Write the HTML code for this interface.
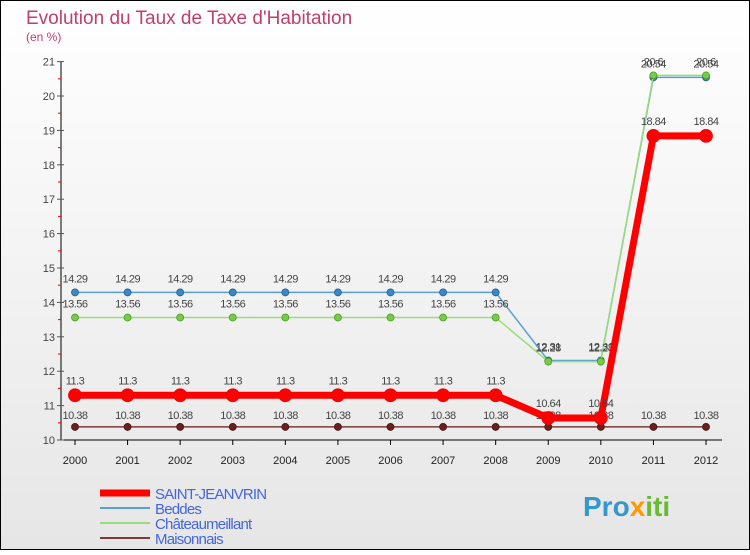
<!DOCTYPE html>
<html><head><meta charset="utf-8"><style>
html,body{margin:0;padding:0;}
body{width:750px;height:550px;overflow:hidden;font-family:"Liberation Sans",sans-serif;}
svg text{font-family:"Liberation Sans",sans-serif;}
</style></head><body>
<svg id="c" width="750" height="550">
<defs><linearGradient id="bg" x1="0" y1="0" x2="0" y2="1"><stop offset="0" stop-color="#ffffff"/><stop offset="1" stop-color="#e6e6e6"/></linearGradient></defs>
<rect x="0.5" y="0.5" width="749" height="549" fill="url(#bg)" stroke="#000"/>
<text x="26" y="24" font-size="19" fill="#c0406a">Evolution du Taux de Taxe d'Habitation</text>
<text x="26" y="41" font-size="12" fill="#c0406a">(en %)</text>
<g id="axes"></g><g id="series"></g><g id="legend"></g>
<text x="583" y="516" font-size="28" font-weight="bold" fill="#3399cc">Pro<tspan fill="#ff9900">x</tspan><tspan fill="#66bb33">iti</tspan></text>
</svg>
<script>
const years=[2000,2001,2002,2003,2004,2005,2006,2007,2008,2009,2010,2011,2012];
const yTicks=[10,11,12,13,14,15,16,17,18,19,20,21];
const seriesNames=["SAINT-JEANVRIN","Beddes","Châteaumeillant","Maisonnais"];
const saint=[11.3,11.3,11.3,11.3,11.3,11.3,11.3,11.3,11.3,10.64,10.64,18.84,18.84];
const beddes=[14.29,14.29,14.29,14.29,14.29,14.29,14.29,14.29,14.29,12.31,12.31,20.54,20.54];
const chat=[13.56,13.56,13.56,13.56,13.56,13.56,13.56,13.56,13.56,12.28,12.28,20.6,20.6];
const mais=[10.38,10.38,10.38,10.38,10.38,10.38,10.38,10.38,10.38,10.38,10.38,10.38,10.38];
const NS="http://www.w3.org/2000/svg";
const X=i=>75+i*(706-75)/(years.length-1);
const Y=v=>440-(v-10)*(440-61.6)/11;
function mk(p,t,a){const e=document.createElementNS(NS,t);for(const k in a)e.setAttribute(k,a[k]);p.appendChild(e);return e;}
const ax=document.getElementById('axes');
const yl=mk(ax,'line',{x1:61,y1:Y(21),x2:61,y2:440,stroke:'#000'});


const xl=mk(ax,'line',{x1:61,y1:440,x2:722,y2:440,stroke:'#000'});


yTicks.forEach(v=>{
 mk(ax,'line',{x1:57,y1:Y(v),x2:64,y2:Y(v),stroke:'#555'});
 const t=mk(ax,'text',{x:55,y:Y(v)+4,'font-size':11,'text-anchor':'end',fill:'#444'});t.textContent=v;
 
 
 if(v<21)mk(ax,'line',{x1:58,y1:Y(v+0.5),x2:61,y2:Y(v+0.5),stroke:'#e00'});
});
years.forEach((y,i)=>{
 mk(ax,'line',{x1:X(i),y1:440,x2:X(i),y2:445,stroke:'#000'});
 const t=mk(ax,'text',{x:X(i),y:464,'font-size':11,'text-anchor':'middle',fill:'#222'});t.textContent=y;
 
 
});
const sg=document.getElementById('series');
function draw(vals,color,w,r,dot,stroke,name,labelDy){
 const g=mk(sg,'g',{});
 
 
 mk(g,'polyline',{points:vals.map((v,i)=>X(i)+','+Y(v)).join(' '),fill:'none',stroke:color,'stroke-width':w,'stroke-linejoin':'round'});
 vals.forEach((v,i)=>{
  const c=mk(g,'circle',{cx:X(i),cy:Y(v),r:r,fill:dot,stroke:stroke,'stroke-width':0.8});
  
  
  const t=mk(g,'text',{x:X(i),y:Y(v)+labelDy,'font-size':11,'text-anchor':'middle',fill:'#444','letter-spacing':'-0.5'});t.textContent=v;
  
  
 });
}
draw(mais,'#7a3b3b',1.5,3.5,'#6b1f1f','#4a1010','maisonnais',-8);
draw(beddes,'#5a9fd4',1.5,3.5,'#3a88c8','#245f90','beddes',-10);
draw(chat,'#99dd77',1.5,3.5,'#77cc44','#4a9a22','chateaumeillant',-10);
draw(saint,'#ff0000',7,6.5,'#ff0000','#ee0000','saint-jeanvrin',-11);
const lg=document.getElementById('legend');
const items=[[seriesNames[0],'#ff0000',7],[seriesNames[1],'#5a9fd4',2],[seriesNames[2],'#99dd77',2],[seriesNames[3],'#7a3b3b',2]];
items.forEach((it,i)=>{
 const y=493+i*15;
 const g=mk(lg,'g',{});
 
 
 mk(g,'line',{x1:100,y1:y,x2:150,y2:y,stroke:it[1],'stroke-width':it[2]});
 const t=mk(g,'text',{x:155,y:y+6,'font-size':15,fill:'#4466dd','letter-spacing':'-0.8'});t.textContent=it[0];
});
</script>
</body></html>
